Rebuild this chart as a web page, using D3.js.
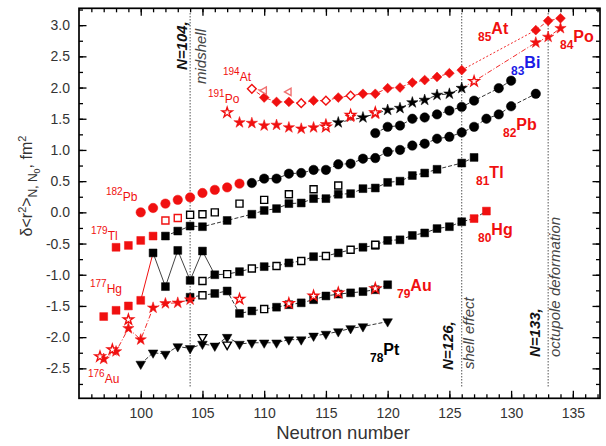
<!DOCTYPE html>
<html lang="en">
<head>
<meta charset="utf-8">
<script src="https://cdn.jsdelivr.net/npm/d3@7"></script>
<style>
body { margin: 0; background: #fff; }
text { font-family: "Liberation Sans", Arial, sans-serif; }
</style>
</head>
<body>
<script>
// ---- data: [neutron number N, delta <r^2> in fm^2] ----
var atOpen   = [[109,1.98],[113,1.75],[115,1.79],[117,1.87]];
var atFilled = [[110,1.84],[111,1.77],[112,1.77],[114,1.79],[116,1.84],[118,1.90],[119,1.90],[120,1.99],[121,2.00],[122,2.08],[123,2.12],[124,2.17],[125,2.23],[126,2.28],[132,2.92],[133,3.07],[134,3.11]];
var atTri    = [[110,1.95],[112,1.93]];

var poRed   = [[108,1.44],[109,1.43],[110,1.39],[111,1.40],[112,1.36],[113,1.34],[114,1.36],[115,1.41],[117,1.53],[119,1.58],[132,2.72],[133,2.81],[134,2.95]];
var poOpen  = [[107,1.60],[115,1.37],[117,1.56],[119,1.60],[127,2.10]];
var poBlack = [[116,1.44],[118,1.52],[120,1.64],[121,1.67],[122,1.76],[123,1.80],[124,1.88],[125,1.90],[126,1.99]];

var biBlack = [[119,1.27],[120,1.37],[121,1.39],[122,1.50],[123,1.52],[124,1.57],[125,1.63],[126,1.69],[127,1.79],[129,1.99],[130,2.11]];

var pbRed   = [[100,0.00],[101,0.07],[102,0.14],[103,0.20],[104,0.24],[105,0.31],[106,0.36],[107,0.40],[108,0.46]];
var pbBlack = [[109,0.47],[110,0.54],[111,0.54],[112,0.62],[113,0.63],[114,0.68],[115,0.68],[116,0.77],[117,0.78],[118,0.86],[119,0.87],[120,0.97],[121,1.00],[122,1.07],[123,1.10],[124,1.18],[125,1.21],[126,1.28],[127,1.37],[128,1.50],[129,1.57],[130,1.70],[132,1.90]];

var tlRed     = [[98,-0.56],[99,-0.53],[100,-0.45],[101,-0.38]];
var tlRedOpen = [[102,-0.13],[103,-0.09]];
var tlOpen    = [[104,-0.04],[105,-0.03],[106,0.00],[108,0.14],[110,0.20],[112,0.29],[114,0.37],[116,0.43]];
var tlBlack   = [[102,-0.38],[103,-0.30],[104,-0.22],[105,-0.23],[107,-0.13],[109,-0.03],[110,0.03],[111,0.06],[112,0.14],[113,0.15],[114,0.22],[115,0.22],[116,0.29],[117,0.30],[118,0.38],[119,0.39],[120,0.48],[121,0.50],[122,0.59],[123,0.63],[124,0.69],[126,0.79],[127,0.88]];

var hgRed     = [[97,-1.67],[98,-1.57],[99,-1.50],[100,-1.41]];
var hgZig     = [[101,-0.65],[102,-1.19],[103,-0.61],[104,-1.09],[105,-0.62],[106,-1.00]];
var hgBlack   = [[108,-0.95],[110,-0.87],[112,-0.81],[114,-0.71],[116,-0.65],[118,-0.56],[119,-0.53],[120,-0.45],[121,-0.44],[122,-0.37],[123,-0.33],[124,-0.26],[125,-0.23],[126,-0.15]];
var hgOpen    = [[105,-1.10],[107,-0.99],[109,-0.90],[111,-0.86],[113,-0.78],[115,-0.70],[117,-0.60],[119,-0.52]];
var hgRedLate = [[127,-0.10],[128,0.02]];

var auRed     = [[97,-2.35],[98,-2.23],[99,-1.86],[100,-2.04],[101,-1.53],[102,-1.46],[103,-1.45],[104,-1.40]];
var auRedOpen = [[96.7,-2.31],[97.7,-2.20],[99,-1.72],[108,-1.39],[112,-1.46],[114,-1.34],[116,-1.29],[119,-1.22]];
var auBlack   = [[104,-1.36],[106,-1.30],[107,-1.26],[108,-1.62],[109,-1.58],[111,-1.52],[112,-1.48],[113,-1.45],[114,-1.40],[115,-1.34],[116,-1.31],[117,-1.29],[118,-1.27],[119,-1.24],[120,-1.16]];
var auOpen    = [[105,-1.33],[110,-1.55]];

var ptBlack = [[100,-2.43],[101,-2.25],[102,-2.27],[103,-2.15],[104,-2.18],[105,-2.11],[106,-2.14],[107,-2.00],[108,-2.11],[109,-2.09],[110,-2.09],[111,-2.09],[112,-2.04],[113,-2.04],[114,-1.98],[115,-1.95],[116,-1.91],[117,-1.86],[118,-1.83],[120,-1.75]];
var ptOpen  = [[105,-2.00],[107,-2.12]];

var xTicks = [100,105,110,115,120,125,130,135];
var yTicks = [-2.5,-2.0,-1.5,-1.0,-0.5,0.0,0.5,1.0,1.5,2.0,2.5,3.0];
var markLines = [104,126,133];

var RED = "#f01010", BLACK = "#000";

var svg = d3.select("body").append("svg").attr("width", 606).attr("height", 446);
var mLeft = 79, mRight = 600, mTop = 8.3, mBottom = 398.3;
var x = d3.scaleLinear().domain([95, 137.2]).range([mLeft, mRight]);
var y = d3.scaleLinear().domain([-2.98, 3.27]).range([mBottom, mTop]);

function merged() {
	var all = [];
	for (var i = 0; i < arguments.length; i++) all = all.concat(arguments[i]);
	return all.sort(function(a, b){ return a[0] - b[0]; });
}

var lineGen = d3.line().x(function(d){ return x(d[0]); }).y(function(d){ return y(d[1]); });
function drawLine(data, color, dash, w) {
	svg.append("path").datum(data)
		.attr("d", lineGen)
		.attr("fill", "none")
		.attr("stroke", color)
		.attr("stroke-width", w || 0.9)
		.attr("stroke-dasharray", dash || null);
}

var shapes = {
	circle:  { type: d3.symbolCircle,   size: 70, rot: 0 },
	square:  { type: d3.symbolSquare,   size: 62, rot: 0 },
	diamond: { type: d3.symbolSquare,   size: 48, rot: 45 },
	star:    { type: d3.symbolStar,     size: 40, rot: 0 },
	tdown:   { type: d3.symbolTriangle, size: 40, rot: 180 },
	tleft:   { type: d3.symbolTriangle, size: 30, rot: -90 }
};
function drawMarks(data, shape, color, open) {
	var s = shapes[shape];
	var sym = d3.symbol().type(s.type).size(open ? s.size * 0.8 : s.size);
	svg.append("g").selectAll("path")
		.data(data)
		.enter().append("path")
		.attr("d", sym)
		.attr("transform", function(d){ return "translate(" + x(d[0]) + "," + y(d[1]) + ") rotate(" + s.rot + ")"; })
		.attr("fill", open ? "#fff" : color)
		.attr("stroke", color)
		.attr("stroke-width", open ? 1.4 : 0.5);
}

// vertical marker lines
svg.append("g").selectAll("line")
	.data(markLines)
	.enter().append("line")
	.attr("x1", function(d){ return x(d); }).attr("x2", function(d){ return x(d); })
	.attr("y1", 13).attr("y2", 387)
	.attr("stroke", "#555").attr("stroke-width", 1).attr("stroke-dasharray", "1.5,1.5");

// ---- connecting lines ----
var DASH = "4,2", DASHDOT = "5,2,1,2";
drawLine(merged(atOpen.slice(0,1), atFilled.slice(0,13), atOpen.slice(1)), RED, DASH);
drawLine([atOpen[0], atTri[0]], RED, DASH, 0.7);
drawLine(atFilled.slice(13, 15), RED, "2,2");
drawLine(atFilled.slice(14), RED, DASH);
drawLine(poBlack, BLACK, DASH, 0.8);
drawLine([poBlack[8], poOpen[4], poRed[10]], RED, DASHDOT);
drawLine(poRed.slice(10), RED, DASHDOT);
drawLine(biBlack, BLACK, DASH, 0.8);
drawLine(pbBlack, BLACK, DASH, 0.8);
drawLine(tlBlack, BLACK, DASH, 0.8);
drawLine([hgRed[3], hgZig[0]], RED, null, 1);
drawLine(hgZig, "#444", null, 1);
drawLine(merged(hgZig.slice(5), hgBlack, hgOpen, hgRedLate), BLACK, DASH, 0.8);
drawLine(auRed, RED, DASHDOT);
drawLine(merged(auBlack, auOpen), BLACK, DASH, 0.8);
drawLine(ptBlack, BLACK, DASH, 0.8);

// ---- markers ----
drawMarks(ptBlack, "tdown", BLACK, false);
drawMarks(ptOpen, "tdown", BLACK, true);
drawMarks(auBlack, "square", BLACK, false);
drawMarks(auOpen, "square", BLACK, true);
drawMarks(auRed, "star", RED, false);
drawMarks(auRedOpen, "star", RED, true);
drawMarks(hgRed, "square", RED, false);
drawMarks(hgZig, "square", BLACK, false);
drawMarks(hgBlack, "square", BLACK, false);
drawMarks(hgOpen, "square", BLACK, true);
drawMarks(hgRedLate, "square", RED, false);
drawMarks(tlRed, "square", RED, false);
drawMarks(tlRedOpen, "square", RED, true);
drawMarks(tlBlack, "square", BLACK, false);
drawMarks(tlOpen, "square", BLACK, true);
drawMarks(pbRed, "circle", RED, false);
drawMarks(pbBlack, "circle", BLACK, false);
drawMarks(biBlack, "circle", BLACK, false);
drawMarks(poRed, "star", RED, false);
drawMarks(poBlack, "star", BLACK, false);
drawMarks(poOpen, "star", RED, true);
drawMarks(atFilled, "diamond", RED, false);
drawMarks(atOpen, "diamond", RED, true);
drawMarks(atTri, "tleft", "#f07070", true);

// ---- axes ----
function styleAxis(g) {
	g.select(".domain").remove();
	g.selectAll(".tick line").attr("stroke", "#000").attr("stroke-width", 1.3);
	g.selectAll(".tick text").attr("fill", "#333").style("font-size", "14px")
		.style("font-family", "'Liberation Sans', Arial, sans-serif");
}
var xMinor = d3.range(96, 138, 1), yMinor = d3.range(-2.75, 3.26, 0.25);

svg.append("g").attr("transform", "translate(0," + mBottom + ")")
	.call(d3.axisBottom(x).tickValues(xMinor).tickSize(-4).tickFormat("")).call(styleAxis);
svg.append("g").attr("transform", "translate(0," + mBottom + ")")
	.call(d3.axisBottom(x).tickValues(xTicks).tickSize(-7.5).tickPadding(10).tickFormat(d3.format("d"))).call(styleAxis);
svg.append("g").attr("transform", "translate(0," + mTop + ")")
	.call(d3.axisTop(x).tickValues(xMinor).tickSize(-4).tickFormat("")).call(styleAxis);
svg.append("g").attr("transform", "translate(0," + mTop + ")")
	.call(d3.axisTop(x).tickValues(xTicks).tickSize(-7.5).tickFormat("")).call(styleAxis);
svg.append("g").attr("transform", "translate(" + mLeft + ",0)")
	.call(d3.axisLeft(y).tickValues(yMinor).tickSize(-4).tickFormat("")).call(styleAxis);
svg.append("g").attr("transform", "translate(" + mLeft + ",0)")
	.call(d3.axisLeft(y).tickValues(yTicks).tickSize(-7.5).tickPadding(9).tickFormat(function(d){ return d.toFixed(1); })).call(styleAxis);
svg.append("g").attr("transform", "translate(" + mRight + ",0)")
	.call(d3.axisRight(y).tickValues(yMinor).tickSize(-4).tickFormat("")).call(styleAxis);
svg.append("g").attr("transform", "translate(" + mRight + ",0)")
	.call(d3.axisRight(y).tickValues(yTicks).tickSize(-7.5).tickFormat("")).call(styleAxis);

svg.append("rect")
	.attr("x", mLeft).attr("y", mTop)
	.attr("width", mRight - mLeft).attr("height", mBottom - mTop)
	.attr("fill", "none").attr("stroke", "#000").attr("stroke-width", 1.7);

// axis titles
svg.append("text").attr("x", 343).attr("y", 439)
	.attr("text-anchor", "middle").attr("fill", "#333").style("font-size", "18.5px")
	.text("Neutron number");

var yl = svg.append("text").attr("transform", "translate(32,186) rotate(-90)")
	.attr("text-anchor", "middle").attr("fill", "#333").style("font-size", "16px");
yl.append("tspan").text("\u03b4<r");
yl.append("tspan").attr("dy", -6).style("font-size", "11px").text("2");
yl.append("tspan").attr("dy", 6).text(">");
yl.append("tspan").attr("dy", 5).style("font-size", "12px").text("N, N");
yl.append("tspan").attr("dy", 3).style("font-size", "9px").text("0");
yl.append("tspan").attr("dy", -8).text(", fm");
yl.append("tspan").attr("dy", -6).style("font-size", "11px").text("2");

// ---- isotope labels ----
function bigLabel(xp, yp, z, sym, color) {
	var t = svg.append("text").attr("x", xp).attr("y", yp).attr("fill", color).style("font-weight", "bold");
	t.append("tspan").style("font-size", "12px").text(z);
	t.append("tspan").style("font-size", "16px").attr("dy", -7).text(sym);
}
function smallLabel(xp, yp, a, sym) {
	var t = svg.append("text").attr("x", xp).attr("y", yp).attr("fill", RED);
	t.append("tspan").style("font-size", "10px").text(a);
	t.append("tspan").style("font-size", "12px").attr("dy", 6).text(sym);
}
bigLabel(478, 41, "85", "At", RED);
bigLabel(560, 49, "84", "Po", RED);
bigLabel(511, 75, "83", "Bi", "#1a1ae6");
bigLabel(503, 137, "82", "Pb", RED);
bigLabel(476, 185, "81", "Tl", RED);
bigLabel(478, 242, "80", "Hg", RED);
bigLabel(397, 298, "79", "Au", RED);
bigLabel(370, 362, "78", "Pt", BLACK);

smallLabel(106, 195, "182", "Pb");
smallLabel(91, 234, "179", "Tl");
smallLabel(90, 287, "177", "Hg");
smallLabel(88, 377, "176", "Au");
smallLabel(208, 97, "191", "Po");
smallLabel(223, 75, "194", "At");

// ---- shell annotations ----
function vText(xp, yp, txt, bold, color) {
	svg.append("text").attr("transform", "translate(" + xp + "," + yp + ") rotate(-90)")
		.attr("fill", color).style("font-size", "15px").style("font-style", "italic")
		.style("font-weight", bold ? "bold" : "normal")
		.text(txt);
}
vText(187, 70, "N=104,", true, "#111");
vText(206, 84, "midshell", false, "#444");
vText(453, 370, "N=126,", true, "#111");
vText(474, 369, "shell effect", false, "#444");
vText(540, 357, "N=133,", true, "#111");
vText(560, 357, "octupole deformation", false, "#444");
</script>
</body>
</html>
